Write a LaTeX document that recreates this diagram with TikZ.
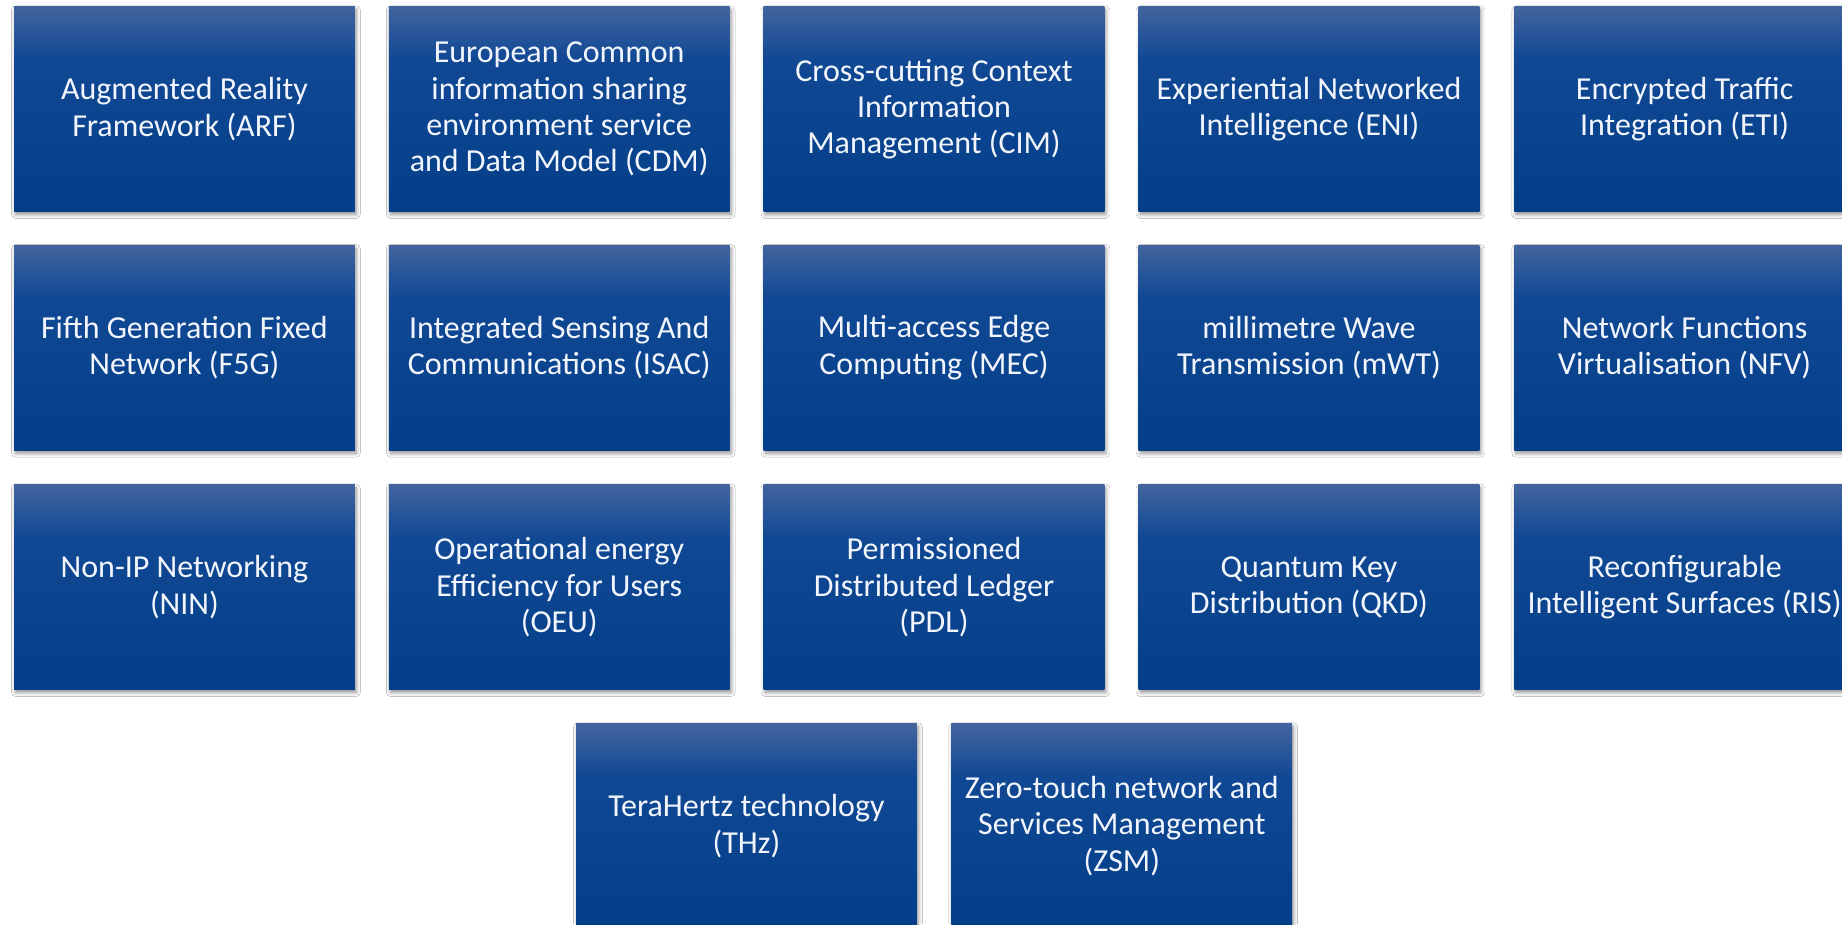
\documentclass[tikz,border=0pt]{standalone}
\usepackage{fontspec}
\setmainfont{Carlito}
\usetikzlibrary{shadows.blur}
\definecolor{btop}{RGB}{66,100,158}
\definecolor{bmid}{RGB}{16,72,148}
\definecolor{bbot}{RGB}{4,62,136}
\definecolor{btext}{RGB}{242,246,252}
\pgfdeclareverticalshading{boxshade}{100bp}{color(0bp)=(bbot); color(25bp)=(bbot); color(62bp)=(bmid); color(75bp)=(btop); color(100bp)=(btop)}
\begin{document}
\begin{tikzpicture}[x=1pt,y=-1pt,
  techbox/.style={shading=boxshade, minimum width=340.7pt, minimum height=204.5pt,
    inner sep=0pt, text=btext, align=center, font=\fontsize{32}{36.4}\selectfont,
    blur shadow={shadow xshift=1.5pt, shadow yshift=-3pt, shadow blur radius=4pt, shadow opacity=45}}]
\useasboundingbox (0,0) rectangle (1842,924);
\clip (0,0) rectangle (1842,924);
\fill[white] (0,0) rectangle (1842,924);
% row 1
\node[techbox] (arf) at (184.4,109.2) {Augmented Reality\\Framework (ARF)};
\node[techbox] (cdm) at (559.2,109.2) {European Common\\information sharing\\environment service\\and Data Model (CDM)};
\node[techbox] (cim) at (934.0,109.2) {Cross-cutting Context\\Information\\Management (CIM)};
\node[techbox] (eni) at (1309.0,109.2) {Experiential Networked\\Intelligence (ENI)};
\node[techbox] (eti) at (1684.6,109.2) {Encrypted Traffic\\Integration (ETI)};
% row 2
\node[techbox] (f5g) at (184.4,347.8) {Fifth Generation Fixed\\Network (F5G)};
\node[techbox] (isac) at (559.2,347.8) {Integrated Sensing And\\Communications (ISAC)};
\node[techbox] (mec) at (934.0,347.8) {Multi-access Edge\\Computing (MEC)};
\node[techbox] (mwt) at (1309.0,347.8) {millimetre Wave\\Transmission (mWT)};
\node[techbox] (nfv) at (1684.6,347.8) {Network Functions\\Virtualisation (NFV)};
% row 3
\node[techbox] (nin) at (184.4,587.2) {Non-IP Networking\\(NIN)};
\node[techbox] (oeu) at (559.2,587.2) {Operational energy\\Efficiency for Users\\(OEU)};
\node[techbox] (pdl) at (934.0,587.2) {Permissioned\\Distributed Ledger\\(PDL)};
\node[techbox] (qkd) at (1309.0,587.2) {Quantum Key\\Distribution (QKD)};
\node[techbox] (ris) at (1684.6,587.2) {Reconfigurable\\Intelligent Surfaces (RIS)};
% row 4
\node[techbox] (thz) at (746.5,826.0) {TeraHertz technology\\(THz)};
\node[techbox] (zsm) at (1121.8,826.0) {Zero-touch network and\\Services Management\\(ZSM)};
\end{tikzpicture}
\end{document}
